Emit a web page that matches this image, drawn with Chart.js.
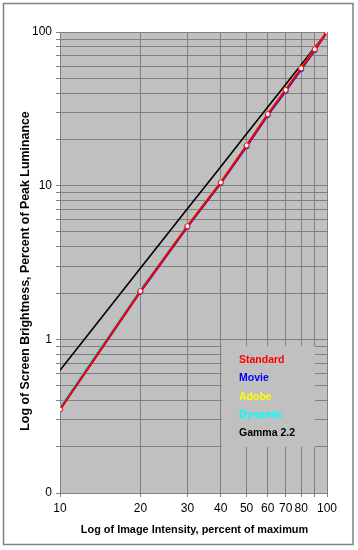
<!DOCTYPE html>
<html>
<head>
<meta charset="utf-8">
<script src="https://cdn.jsdelivr.net/npm/chart.js@4.4.1/dist/chart.umd.min.js"></script>
<style>
  html, body { margin: 0; padding: 0; background: #fff; }
  #wrap { position: relative; width: 358px; height: 550px; }
</style>
</head>
<body>
<div id="wrap"><canvas id="c" width="358" height="550"></canvas></div>
<script>
// ---- data ----
const xValues = [10, 20, 30, 40, 50, 60, 70, 80, 90, 100];
const standard = [0.35, 2.06, 5.45, 10.5, 18.3, 29.2, 42.0, 58.0, 77.2, 100];
const movie    = [0.35, 2.04, 5.40, 10.4, 18.0, 28.8, 41.3, 57.2, 76.3, 100];
const adobe    = [0.35, 2.05, 5.45, 10.5, 18.3, 29.1, 41.9, 57.9, 77.1, 100];
const dynamic  = [0.36, 2.10, 5.50, 10.6, 18.4, 29.3, 42.1, 58.0, 77.2, 100];
const gamma22  = [0.63, 2.90, 7.07, 13.3, 21.8, 32.5, 45.6, 61.2, 79.3, 100];

const xTickValues = [10, 20, 30, 40, 50, 60, 70, 80, 90, 100];
const xTickLabels = ['10', '20', '30', '40', '50', '60', '70', '80', '', '100'];
const yTickValues = [0.1, 0.2, 0.3, 0.4, 0.5, 0.6, 0.7, 0.8, 0.9,
                     1, 2, 3, 4, 5, 6, 7, 8, 9,
                     10, 20, 30, 40, 50, 60, 70, 80, 90, 100];
const yTickLabels = ['0', '', '', '', '', '', '', '', '',
                     '1', '', '', '', '', '', '', '', '',
                     '10', '', '', '', '', '', '', '', '', '100'];

const seriesNames  = ['Standard', 'Movie', 'Adobe', 'Dynamic', 'Gamma 2.2'];
const seriesColors = ['#ff0000', '#0000ff', '#ffff00', '#00ffff', '#000000'];
const seriesData   = [standard, movie, adobe, dynamic, gamma22];

const xTitle = 'Log of Image Intensity, percent of maximum';
const yTitle = 'Log of Screen Brightness, Percent of Peak Luminance';

const datasets = seriesNames.map((name, i) => ({
  label: name,
  data: xValues.map((x, j) => ({ x: x, y: seriesData[i][j] })),
  borderColor: seriesColors[i],
  backgroundColor: seriesColors[i],
  borderWidth: i === 4 ? 1.6 : 2.2,
  pointRadius: i === 4 ? 0 : 2.5,
  pointBackgroundColor: '#ffffff',
  pointBorderColor: seriesColors[i],
  pointBorderWidth: 1,
  tension: 0,
  fill: false
}));

const decor = {
  id: 'decor',
  beforeDraw(chart) {
    const { ctx, chartArea: a } = chart;
    ctx.save();
    ctx.fillStyle = '#c0c0c0';
    ctx.fillRect(a.left, a.top, a.right - a.left, a.bottom - a.top);
    ctx.restore();
  },
  afterDraw(chart) {
    const { ctx, chartArea: a } = chart;
    ctx.save();
    // outer frame
    ctx.strokeStyle = '#808080';
    ctx.lineWidth = 1.5;
    ctx.strokeRect(3.5, 3.5, 349.5, 541);
    // legend box
    ctx.fillStyle = '#c0c0c0';
    ctx.fillRect(222, 346, 93, 101);
    ctx.font = 'bold 10.5px "Liberation Sans", Arial, sans-serif';
    ctx.textBaseline = 'middle';
    ctx.textAlign = 'left';
    seriesNames.forEach((n, i) => {
      ctx.fillStyle = seriesColors[i];
      ctx.fillText(n, 239, 360 + i * 18.4);
    });
    // axis titles
    ctx.fillStyle = '#000';
    ctx.textAlign = 'center';
    ctx.font = 'bold 10.9px "Liberation Sans", Arial, sans-serif';
    ctx.fillText(xTitle, (a.left + a.right) / 2 + 1, 530);
    ctx.font = 'bold 12.4px "Liberation Sans", Arial, sans-serif';
    ctx.translate(26, 271);
    ctx.rotate(-Math.PI / 2);
    ctx.fillText(yTitle, 0, 0);
    ctx.restore();
  }
};

new Chart(document.getElementById('c'), {
  type: 'line',
  data: { datasets },
  plugins: [decor],
  options: {
    responsive: false,
    animation: false,
    devicePixelRatio: 1,
    layout: { padding: { left: 0, right: 31, top: 32, bottom: 0 } },
    plugins: { legend: { display: false }, tooltip: { enabled: false } },
    scales: {
      x: {
        type: 'logarithmic',
        min: 10, max: 100,
        afterBuildTicks(axis) { axis.ticks = xTickValues.map(v => ({ value: v })); },
        afterFit(axis) { axis.height = 57; },
        ticks: {
          autoSkip: false, maxRotation: 0, minRotation: 0, padding: 4,
          color: '#000',
          font: { family: '"Liberation Sans", Arial, sans-serif', size: 12 },
          callback: (v, i) => xTickLabels[i]
        },
        grid: { color: '#808080', lineWidth: 1, tickLength: 4, drawTicks: true },
        border: { color: '#808080', width: 1 }
      },
      y: {
        type: 'logarithmic',
        min: 0.1, max: 100,
        afterBuildTicks(axis) { axis.ticks = yTickValues.map(v => ({ value: v })); },
        afterFit(axis) { axis.width = 60; },
        ticks: {
          autoSkip: false, padding: 4,
          color: '#000',
          font: { family: '"Liberation Sans", Arial, sans-serif', size: 12 },
          callback: (v, i) => yTickLabels[i]
        },
        grid: { color: '#808080', lineWidth: 1, tickLength: 4, drawTicks: true },
        border: { color: '#808080', width: 1 }
      }
    }
  }
});
</script>
</body>
</html>
